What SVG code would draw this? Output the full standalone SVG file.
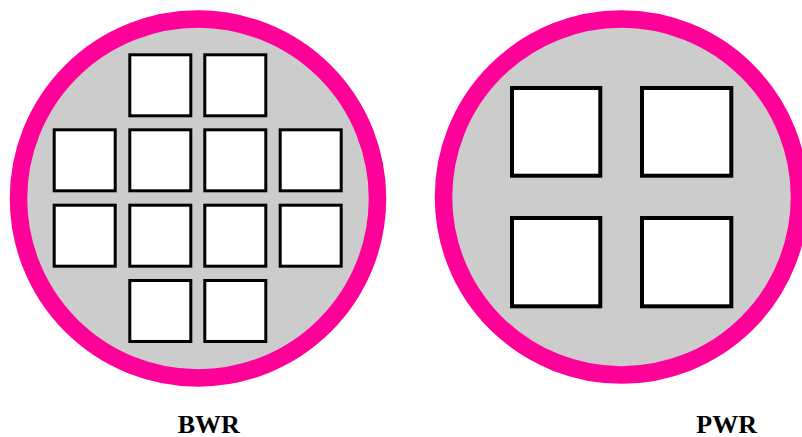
<svg xmlns="http://www.w3.org/2000/svg" width="802" height="437" viewBox="0 0 802 437">
<style>
.vessel{fill:#cccccc;stroke:#ff0099;stroke-width:17.5}
.b{fill:#ffffff;stroke:#000000;stroke-width:3}
.p{fill:#ffffff;stroke:#000000;stroke-width:4}
.lbl{font-family:"Liberation Serif",serif;font-weight:bold;font-size:26px;fill:#000000;text-anchor:middle}
</style>
<rect width="802" height="437" fill="#ffffff"/>
<g id="bwr">
<circle class="vessel" cx="198" cy="198.5" r="179.5"/>
<rect class="b" x="129.8" y="54.8" width="61" height="61"/>
<rect class="b" x="204.8" y="54.8" width="61" height="61"/>
<rect class="b" x="54.2" y="129.8" width="61" height="61"/>
<rect class="b" x="129.8" y="129.8" width="61" height="61"/>
<rect class="b" x="204.8" y="129.8" width="61" height="61"/>
<rect class="b" x="280.2" y="129.8" width="61" height="61"/>
<rect class="b" x="54.2" y="205.2" width="61" height="61"/>
<rect class="b" x="129.8" y="205.2" width="61" height="61"/>
<rect class="b" x="204.8" y="205.2" width="61" height="61"/>
<rect class="b" x="280.2" y="205.2" width="61" height="61"/>
<rect class="b" x="129.8" y="280.5" width="61" height="61"/>
<rect class="b" x="204.8" y="280.5" width="61" height="61"/>
</g>
<g id="pwr">
<circle class="vessel" cx="621.5" cy="197" r="178"/>
<rect class="p" x="512" y="88" width="88.3" height="87.7"/>
<rect class="p" x="642" y="88" width="89.3" height="87.7"/>
<rect class="p" x="512" y="218" width="88.3" height="88.3"/>
<rect class="p" x="642" y="218" width="89.3" height="88.3"/>
</g>
<g id="connectors"/>
<text class="lbl" x="208.7" y="432.5">BWR</text>
<text class="lbl" x="726.7" y="432.5">PWR</text>
</svg>
